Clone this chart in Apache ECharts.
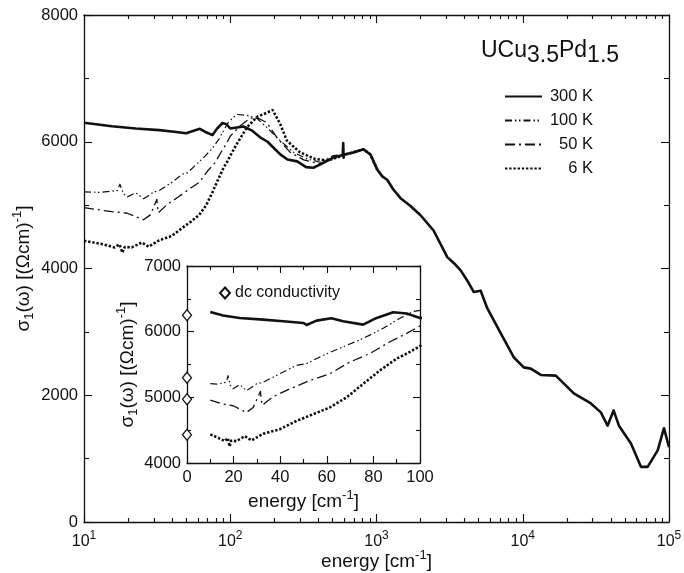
<!DOCTYPE html>
<html><head><meta charset="utf-8">
<script src="https://cdn.jsdelivr.net/npm/echarts@6/dist/echarts.min.js"></script>
<style>html,body{margin:0;padding:0;background:#fff}#c{width:684px;height:573px}</style>
</head><body><div id="c"></div>
<script>
// ---- data (energy in cm^-1, sigma1 in (Ohm cm)^-1) ----
const e300 = [10,15.5,22.6,32.7,41.3,49.9,51.3,55.6,62,67,75.6,81.4,88.5,94.3,100,123,140,160,180,197,220,246,287,330,370,420,507,588,592,596,600,700,815,909,1012,1100,1183,1300,1460,1700,2000,2456,3047,3400,3760,4200,4617,5155,5728,7063,8670,10160,11350,13280,16830,22340,29240,34200,38000,41800,45470,54950,64300,71450,83700,92400,100000];
const s300 = [6300,6245,6209,6184,6158,6133,6102,6168,6204,6158,6107,6209,6296,6276,6209,6240,6180,6070,6000,5910,5800,5720,5690,5600,5590,5650,5750,5790,5980,5750,5800,5830,5880,5800,5560,5450,5400,5250,5110,4990,4840,4600,4180,4080,3970,3800,3630,3650,3370,2980,2600,2440,2420,2320,2310,2030,1870,1730,1520,1760,1520,1240,870,870,1130,1480,1180];

const e100 = [10,12.9,16.9,17.6,18.6,19.8,22.6,25.5,26.8,29.8,32.7,39.8,47,51.3,58.5,67,75.6,84.2,91.4,97.1,100,110.9,129.8,152,178,220,271,335,412,507,623,815,909,1012];
const s100 = [5210,5200,5230,5330,5180,5130,5195,5102,5130,5205,5230,5359,5487,5513,5641,5769,5897,6051,6205,6308,6323,6430,6417,6370,6224,6016,5833,5729,5677,5781,5807,5880,5800,5560];

const e50 = [10,15.5,19.8,25.5,28.4,31.5,31.9,32.3,37,44.1,52.7,61.3,69.9,78.5,87.1,94.3,100,116.6,136,152,178,208,257,318,412,507,623,815,909,1012];
const s50 = [4959,4897,4872,4769,4846,5090,4949,4880,5010,5128,5256,5359,5538,5667,5846,5974,6087,6250,6370,6380,6302,6068,5833,5714,5651,5760,5800,5880,5800,5560];

const e6 = [10,13.3,16.2,17.5,18.3,19,21.2,24.8,27.7,32.7,39.8,47,54.2,61.3,68.5,75.6,82.8,90,95.7,100,110.9,129.8,152,178,195,220,244,300,379,461,550,700,815,909,1012];
const s6 = [4436,4385,4333,4380,4250,4340,4333,4410,4344,4446,4513,4641,4744,4846,5000,5205,5410,5590,5692,5780,5964,6224,6391,6458,6500,6276,6016,5833,5729,5703,5760,5840,5880,5800,5560];

const dcTemps = ['300 K','100 K','50 K','6 K'];
const dcValues = [6250, 5300, 4970, 4430];

const seriesNames = ['300 K','100 K','50 K','6 K'];
const mainXMajor = [10,100,1000,10000,100000];
const mainXMinor = [20,30,40,50,60,70,80,90,200,300,400,500,600,700,800,900,2000,3000,4000,5000,6000,7000,8000,9000,20000,30000,40000,50000,60000,70000,80000,90000];

const pairs = (xs, ys) => xs.map((x, i) => [x, ys[i]]);
const FONT = '"Liberation Sans", Arial, Helvetica, sans-serif';
const INK = '#111';

const styles = [
  {width: 2.6, type: 'solid'},
  {width: 1.2, type: [7, 3, 1.5, 2.5, 1.5, 3]},
  {width: 1.3, type: [10, 4, 2, 4]},
  {width: 2.6, type: [2.4, 1.8]}
];
const datasets = [pairs(e300, s300), pairs(e100, s100), pairs(e50, s50), pairs(e6, s6)];

const chart = echarts.init(document.getElementById('c'), null, {renderer: 'canvas'});

const supRich = {
  t: {fontSize: 19, fontFamily: FONT, color: INK, verticalAlign: 'bottom', padding: [0, 0, 3, 0]},
  p: {fontSize: 13, fontFamily: FONT, color: INK, verticalAlign: 'bottom', padding: [0, 0, 12, 0]},
  s: {fontSize: 13, fontFamily: FONT, color: INK, verticalAlign: 'bottom', padding: [0, 0, 0, 0]}
};
const yName = '{t|σ}{s|1}{t|(ω) [(Ωcm)}{p|-1}{t|]}';
const xName = '{t|energy [cm}{p|-1}{t|]}';

function logAxis(pos, values, len, labels, show) {
  return {
    type: 'log', logBase: 10, min: 10, max: 100000, gridIndex: 0, position: pos,
    axisLine: {show: show, onZero: false, lineStyle: {color: INK, width: 1.3}},
    axisTick: {show: true, inside: true, length: len, customValues: values, lineStyle: {color: INK, width: 1.1}},
    axisLabel: labels ? {
      show: true, customValues: mainXMajor, margin: 8,
      formatter: v => '{t|10}{p|' + Math.round(Math.log10(v)) + '}',
      rich: {t: {fontSize: 16, fontFamily: FONT, color: INK, verticalAlign: 'bottom'}, p: {fontSize: 12, fontFamily: FONT, color: INK, verticalAlign: 'bottom', padding: [0, 0, 8, 0]}}
    } : {show: false},
    splitLine: {show: false}, minorTick: {show: false}
  };
}

const option = {
  animation: false,
  backgroundColor: '#fff',
  textStyle: {fontFamily: FONT, color: INK},
  title: {
    text: '{n|UCu}{d|3.5}{n|Pd}{d|1.5}', left: 476, top: 34,
    textStyle: {fontWeight: 'normal', rich: {
      n: {fontSize: 23, fontWeight: 'normal', fontFamily: FONT, color: INK, verticalAlign: 'top'},
      d: {fontSize: 23, fontWeight: 'normal', fontFamily: FONT, color: INK, verticalAlign: 'top', padding: [5, 0, 0, 0]}
    }}
  },
  legend: [{
    data: seriesNames, orient: 'vertical', left: 499, top: 83, itemWidth: 37, itemHeight: 10, itemGap: 7,
    selectedMode: false, align: 'left', z: 20,
    itemStyle: {opacity: 0},
    formatter: n => '{r|' + n + '}',
    textStyle: {rich: {r: {width: 46, align: 'right', fontSize: 16.5, fontFamily: FONT, color: INK, lineHeight: 18}}}
  }, {
    data: ['dc conductivity'], left: 214, top: 280, itemWidth: 10, itemHeight: 11, itemGap: 4, z: 20,
    selectedMode: false,
    textStyle: {fontSize: 16, fontFamily: FONT, color: INK}
  }],
  grid: [
    {left: 84, top: 15, width: 585, height: 507, show: false, containLabel: false, outerBoundsMode: 'none'},
    {left: 187, top: 266, width: 233, height: 197, show: true, backgroundColor: '#fff', borderWidth: 0, z: 10, containLabel: false, outerBoundsMode: 'none'}
  ],
  xAxis: [
    Object.assign(logAxis('bottom', mainXMajor, 8, true, true), {
      name: xName, nameLocation: 'middle', nameGap: 27, nameMoveOverlap: false, nameTextStyle: {rich: supRich}
    }),
    logAxis('bottom', mainXMinor, 4, false, false),
    logAxis('top', mainXMajor, 8, false, true),
    logAxis('top', mainXMinor, 4, false, false),
    {
      type: 'value', min: 0, max: 100, interval: 20, gridIndex: 1, position: 'bottom', z: 12,
      axisLine: {onZero: false, lineStyle: {color: INK, width: 1.3}},
      axisTick: {inside: true, length: 7, lineStyle: {color: INK, width: 1.1}},
      minorTick: {show: true, splitNumber: 2, length: 4, lineStyle: {color: INK, width: 1.1}},
      axisLabel: {fontSize: 16.5, fontFamily: FONT, color: INK, margin: 6},
      splitLine: {show: false},
      name: xName, nameLocation: 'middle', nameGap: 26, nameMoveOverlap: false, nameTextStyle: {rich: supRich}
    },
    {
      type: 'value', min: 0, max: 100, interval: 20, gridIndex: 1, position: 'top', z: 12,
      axisLine: {onZero: false, lineStyle: {color: INK, width: 1.3}},
      axisTick: {inside: true, length: 7, lineStyle: {color: INK, width: 1.1}},
      minorTick: {show: true, splitNumber: 2, length: 4, lineStyle: {color: INK, width: 1.1}},
      axisLabel: {show: false}, splitLine: {show: false}
    }
  ],
  yAxis: [
    {
      type: 'value', min: 0, max: 8000, interval: 2000, gridIndex: 0, position: 'left',
      axisLine: {show: true, onZero: false, lineStyle: {color: INK, width: 1.3}},
      axisTick: {inside: true, length: 8, lineStyle: {color: INK, width: 1.1}},
      minorTick: {show: true, splitNumber: 2, length: 5, lineStyle: {color: INK, width: 1.1}},
      axisLabel: {fontSize: 16.5, fontFamily: FONT, color: INK, margin: 6, formatter: v => String(v)},
      splitLine: {show: false},
      name: yName, nameLocation: 'middle', nameGap: 48, nameMoveOverlap: false, nameRotate: 90, nameTextStyle: {rich: supRich}
    },
    {
      type: 'value', min: 0, max: 8000, interval: 2000, gridIndex: 0, position: 'right',
      axisLine: {show: true, onZero: false, lineStyle: {color: INK, width: 1.3}},
      axisTick: {inside: true, length: 8, lineStyle: {color: INK, width: 1.1}},
      minorTick: {show: true, splitNumber: 2, length: 5, lineStyle: {color: INK, width: 1.1}},
      axisLabel: {show: false}, splitLine: {show: false}
    },
    {
      type: 'value', min: 4000, max: 7000, interval: 1000, gridIndex: 1, position: 'left', z: 12,
      axisLine: {show: true, onZero: false, lineStyle: {color: INK, width: 1.3}},
      axisTick: {inside: true, length: 7, lineStyle: {color: INK, width: 1.1}},
      minorTick: {show: true, splitNumber: 2, length: 4, lineStyle: {color: INK, width: 1.1}},
      axisLabel: {fontSize: 16.5, fontFamily: FONT, color: INK, margin: 6, formatter: v => String(v)},
      splitLine: {show: false},
      name: yName, nameLocation: 'middle', nameGap: 47, nameMoveOverlap: false, nameRotate: 90, nameTextStyle: {rich: supRich}
    },
    {
      type: 'value', min: 4000, max: 7000, interval: 1000, gridIndex: 1, position: 'right', z: 12,
      axisLine: {show: true, onZero: false, lineStyle: {color: INK, width: 1.3}},
      axisTick: {inside: true, length: 7, lineStyle: {color: INK, width: 1.1}},
      minorTick: {show: true, splitNumber: 2, length: 4, lineStyle: {color: INK, width: 1.1}},
      axisLabel: {show: false}, splitLine: {show: false}
    }
  ],
  series: [].concat(
    seriesNames.map((n, i) => ({
      name: n, type: 'line', xAxisIndex: 0, yAxisIndex: 0, data: datasets[i],
      showSymbol: false, symbol: 'none', smooth: false, z: 3,
      lineStyle: {color: INK, width: styles[i].width, type: styles[i].type, cap: 'butt', join: 'round'},
      itemStyle: {color: INK}
    })),
    seriesNames.map((n, i) => ({
      name: n, type: 'line', xAxisIndex: 4, yAxisIndex: 2, data: datasets[i],
      showSymbol: false, symbol: 'none', smooth: false, z: 11, clip: true,
      lineStyle: {color: INK, width: styles[i].width, type: styles[i].type, cap: 'butt', join: 'round'},
      itemStyle: {color: INK}
    })),
    [{
      name: 'dc conductivity', type: 'scatter', xAxisIndex: 4, yAxisIndex: 2, clip: false, z: 13,
      symbol: 'diamond', symbolSize: [9, 11],
      data: dcValues.map(v => [0, v]),
      itemStyle: {color: '#fff', borderColor: INK, borderWidth: 1.3, opacity: 1}
    }]
  )
};
chart.setOption(option);
</script>
</body></html>
